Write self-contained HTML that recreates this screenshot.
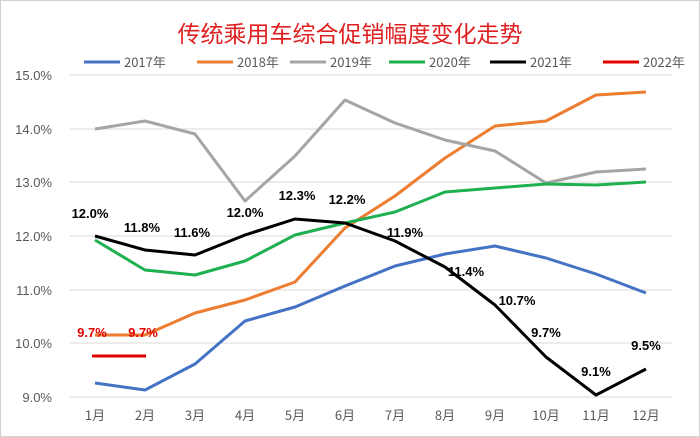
<!DOCTYPE html>
<html><head><meta charset="utf-8"><style>
body{margin:0;background:#fff}
svg{display:block;font-family:"Liberation Sans","Noto Sans CJK SC",sans-serif}
</style></head><body>
<svg width="700" height="437" viewBox="0 0 700 437" xmlns="http://www.w3.org/2000/svg">
<rect x="0.5" y="0.5" width="699" height="436" fill="#fff" stroke="#d0d0d0"/>
<text x="350" y="42" text-anchor="middle" font-size="23" fill="#e02020" font-family="'Noto Sans CJK SC',sans-serif">传统乘用车综合促销幅度变化走势</text>
<g stroke="#d9d9d9" stroke-width="1">
<line x1="70" x2="672" y1="75" y2="75"/><line x1="70" x2="672" y1="129" y2="129"/>
<line x1="70" x2="672" y1="182" y2="182"/><line x1="70" x2="672" y1="236" y2="236"/>
<line x1="70" x2="672" y1="290" y2="290"/><line x1="70" x2="672" y1="343" y2="343"/>
<line x1="70" x2="672" y1="397" y2="397"/>
</g>
<g font-size="13" fill="#595959" text-anchor="end">
<text x="52" y="80">15.0%</text><text x="52" y="134">14.0%</text><text x="52" y="187">13.0%</text>
<text x="52" y="241">12.0%</text><text x="52" y="295">11.0%</text><text x="52" y="348">10.0%</text><text x="52" y="402">9.0%</text>
</g>
<g font-size="13" fill="#595959" text-anchor="middle" font-family="'Noto Sans CJK SC',sans-serif">
<text x="95" y="420">1月</text><text x="145" y="420">2月</text><text x="195" y="420">3月</text><text x="245" y="420">4月</text>
<text x="295" y="420">5月</text><text x="345" y="420">6月</text><text x="395" y="420">7月</text><text x="445" y="420">8月</text>
<text x="495" y="420">9月</text><text x="546" y="420">10月</text><text x="596" y="420">11月</text><text x="646" y="420">12月</text>
</g>
<g font-size="13" fill="#595959" font-family="'Noto Sans CJK SC',sans-serif">
<line x1="84" x2="120" y1="62" y2="62" stroke="#4472c4" stroke-width="3"/><text x="124" y="67">2017年</text>
<line x1="197" x2="233" y1="62" y2="62" stroke="#ed7d31" stroke-width="3"/><text x="237" y="67">2018年</text>
<line x1="290" x2="326" y1="62" y2="62" stroke="#a5a5a5" stroke-width="3"/><text x="330" y="67">2019年</text>
<line x1="389" x2="425" y1="62" y2="62" stroke="#1fb050" stroke-width="3"/><text x="429" y="67">2020年</text>
<line x1="490" x2="526" y1="62" y2="62" stroke="#000" stroke-width="3"/><text x="530" y="67">2021年</text>
<line x1="603" x2="639" y1="62" y2="62" stroke="#e00000" stroke-width="3"/><text x="643" y="67">2022年</text>
</g>
<g fill="none" stroke-width="3" stroke-linejoin="round">
<polyline stroke="#4472c4" points="95,383 145,390 195,364 245,321 295,307 345,286 395,266 445,254 495,246 546,258 596,274 646,293"/>
<polyline stroke="#ed7d31" points="95,335 145,335 195,313 245,300 295,282 345,228 395,196 445,158 495,126 546,121 596,95 646,92"/>
<polyline stroke="#a5a5a5" points="95,129 145,121 195,134 245,201 295,156 345,100 395,123 445,140 495,151 546,183 596,172 646,169"/>
<polyline stroke="#1fb050" points="95,240 145,270 195,275 245,261 295,235 345,223 395,212 445,192 495,188 546,184 596,185 646,182"/>
<polyline stroke="#000" points="95,236 145,250 195,255 245,235 295,219 345,223 395,241 445,267 495,305 546,357 596,395 646,369"/>
<polyline stroke="#e00000" points="92,356 146,356"/>
</g>
<g font-size="13" font-weight="bold" fill="#000" text-anchor="middle">
<text x="90" y="218">12.0%</text><text x="142" y="232">11.8%</text><text x="192" y="237">11.6%</text>
<text x="245" y="217">12.0%</text><text x="297" y="200">12.3%</text><text x="347" y="204">12.2%</text>
<text x="405" y="237">11.9%</text><text x="466" y="276">11.4%</text><text x="517" y="305">10.7%</text>
<text x="546" y="337">9.7%</text><text x="596" y="376">9.1%</text><text x="646" y="350">9.5%</text>
<text x="92" y="337" fill="#e00000">9.7%</text><text x="143" y="337" fill="#e00000">9.7%</text>
</g>
</svg>
</body></html>
